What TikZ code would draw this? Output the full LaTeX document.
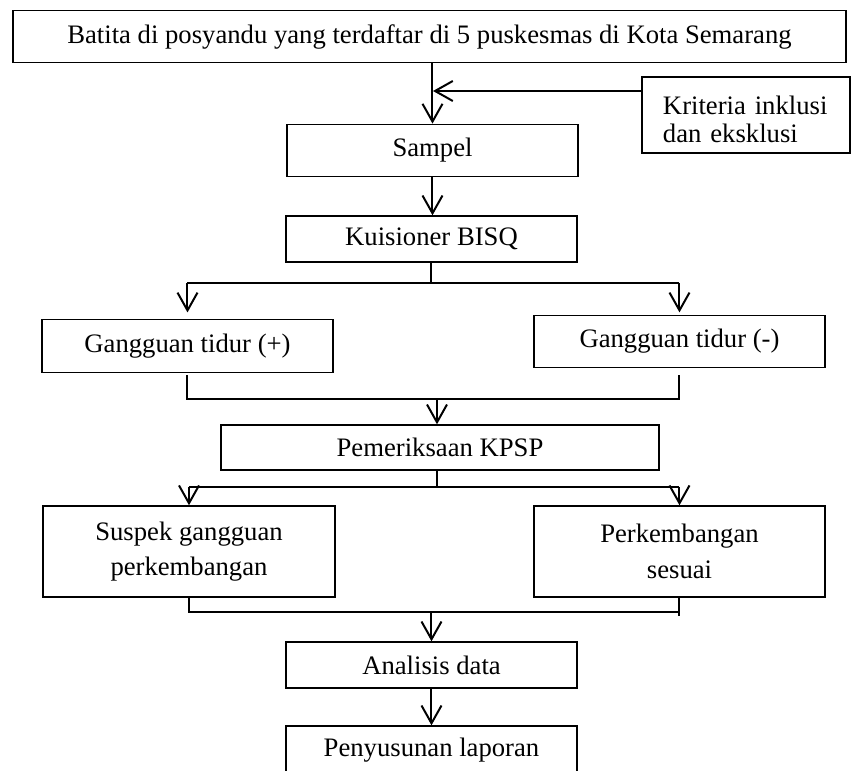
\documentclass[tikz,border=0pt]{standalone}
\usepackage{fontspec}
\setmainfont{Liberation Serif}
\usepackage{tikz}
\usetikzlibrary{arrows.meta,positioning,calc}
\tikzset{
    flowbox/.style={draw, line width=0.6pt, minimum width=#1,
                    minimum height=23.6pt, inner sep=2pt,
                    align=center, font=\fontsize{12}{16}\selectfont},
}

\begin{document}
\begin{tikzpicture}[
    x=0.45pt, y=-0.45pt,
    arr/.style={-{Straight Barb[length=8pt,width=9pt]}, line width=0.9pt},
    link/.style={line width=0.9pt}
]
    \useasboundingbox (0,0) rectangle (852,771);

    \node[flowbox=374.9pt] (populasi) at (429.5,36.5) {Batita di posyandu yang terdaftar di 5 puskesmas di Kota Semarang};
    \node[flowbox=93.6pt, minimum height=34.2pt, align=left, text width=74.7pt,
          inner xsep=9.45pt, inner ysep=1pt, text height=12.5pt,
          font=\fontsize{12}{12.5}\selectfont] (kriteria) at (746,115) {Kriteria inklusi\\dan eksklusi};
    \node[flowbox=131pt] (sampel) at (432.5,150.5) {Sampel};
    \node[flowbox=131pt, minimum height=20.7pt] (bisq) at (431.5,239) {Kuisioner BISQ};
    \node[flowbox=131pt] (tidurpos) at (187.5,346) {Gangguan tidur (+)};
    \node[flowbox=131pt] (tidurneg) at (679.5,341.5) {Gangguan tidur (-)};
    \node[flowbox=197.1pt, minimum height=20.25pt] (kpsp) at (440,447.5) {Pemeriksaan KPSP};
    \node[flowbox=131.4pt, minimum height=41pt] (suspek) at (189,551.5) {Suspek gangguan\\perkembangan};
    \node[flowbox=131pt, minimum height=41pt] (sesuai) at (679.5,551.5) {Perkembangan\\sesuai};
    \node[flowbox=131pt, minimum height=20.7pt] (analisis) at (431.5,665) {Analisis data};
    \node[flowbox=131pt, minimum height=21.6pt] (laporan) at (431.5,750) {Penyusunan laporan};

    \coordinate (masuk) at (433,91);
    \coordinate (cabang1) at (433,283);
    \coordinate (gabung1) at (437,399);
    \coordinate (cabang2) at (437,487);
    \coordinate (gabung2) at (432,612);

    \draw[arr] (sampel.north |- populasi.south) -- (sampel.north);
    \draw[arr] (kriteria.west |- masuk) -- (masuk);
    \draw[arr] (sampel.south) -- (sampel.south |- bisq.north);

    \draw[link] (bisq.south) -- (bisq.south |- cabang1);
    \draw[link] (tidurpos.north |- cabang1) -- (tidurneg.north |- cabang1);
    \draw[arr] (tidurpos.north |- cabang1) -- ([yshift=3pt]tidurpos.north);
    \draw[arr] (tidurneg.north |- cabang1) -- ([yshift=1pt]tidurneg.north);

    \draw[link] ([yshift=-1pt]tidurpos.south) -- (tidurpos.south |- gabung1)
        -- (tidurneg.south |- gabung1) -- ([yshift=-3pt]tidurneg.south);
    \draw[arr] (gabung1) -- (gabung1 |- kpsp.north);

    \draw[link] (kpsp.south -| cabang2) -- (cabang2);
    \draw[link] (suspek.north |- cabang2) -- (sesuai.north |- cabang2);
    \draw[arr] (suspek.north |- cabang2) -- (suspek.north);
    \draw[arr] (sesuai.north |- cabang2) -- (sesuai.north);

    \draw[link] (suspek.south) -- (suspek.south |- gabung2) -- (sesuai.south |- gabung2);
    \draw[link] (sesuai.south) -- ([yshift=-2pt]sesuai.south |- gabung2);
    \draw[arr] (analisis.north |- gabung2) -- (analisis.north);
    \draw[arr] (analisis.south) -- (laporan.north);
\end{tikzpicture}
\end{document}
